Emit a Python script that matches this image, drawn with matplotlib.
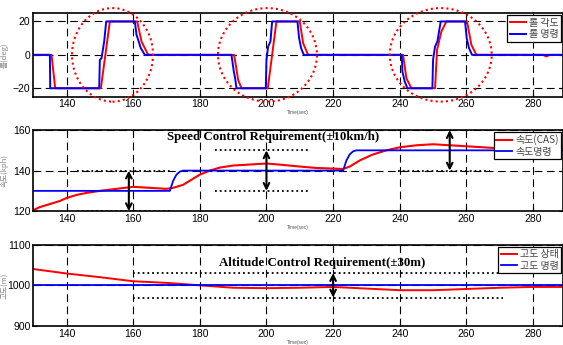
import matplotlib.pyplot as plt
from matplotlib.patches import Ellipse

plt.rcParams['font.family'] = ['Liberation Sans', 'Noto Sans CJK KR', 'DejaVu Sans']
KFONT = ['Noto Sans CJK KR', 'DejaVu Sans']

# ── DATA ──────────────────────────────────────────────────────────────────────
roll_cmd_t = [130, 135, 135.1, 149.8, 150, 150.5, 151.3, 151.9, 160.5, 161, 161.5,
              162.3, 163.5, 189.5, 190.2, 190.6, 191, 199.8, 200, 200.5, 201.2,
              201.7, 209.3, 209.8, 210.4, 211.2, 240.6, 240.8, 241.5, 242.3, 249.8,
              250, 250.6, 251.3, 252.3, 259.6, 260.1, 260.8, 261.7, 289]
roll_cmd = [0, 0, -20, -20, -3, -2, 8, 20, 20, 12, 9,
            4, 0, 0, -10, -14, -20, -20, -3, 5, 8,
            20, 20, 10, 4, 0, 0, -10, -16, -20, -20,
            -3, 5, 8, 20, 20, 10, 4, 0, 0]

roll_t = [130, 135.5, 136.6, 150.3, 153, 161.2, 162.5, 164.5, 190.3, 191.5, 192.5,
          200.4, 203, 210, 211, 212.5, 241, 242, 243.5, 250.6, 251.2, 252.5, 254,
          260.2, 261.5, 263, 283, 284, 285, 289]
roll_ang = [0, 0, -20, -20, 20, 20, 8, 0, 0, -15, -20,
            -20, 20, 20, 7, 0, 0, -14, -20, -20, 3, 14, 20,
            20, 6, 0, 0, -1, 0, 0]

spd_cmd_t = [130, 171, 172, 173, 174, 175, 223, 224, 225, 226, 227, 289]
spd_cmd = [130, 130, 135, 138, 139.5, 140, 140, 145, 148, 149.5, 150, 150]

spd_t = [130, 132, 135, 138, 140, 143, 146, 150, 155, 160, 165, 170, 172, 175,
         178, 180, 183, 186, 190, 195, 200, 205, 210, 215, 220, 223, 225, 228,
         232, 236, 240, 245, 250, 255, 260, 265, 270, 275, 280, 289]
spd_cas = [120.5, 122, 123.5, 125, 126.5, 128, 129, 130, 131, 132, 131.5, 131, 131.5, 133,
           136, 138, 140, 141.5, 142.5, 143, 143.5, 142.8, 142, 141.3, 141, 140.8, 142, 145,
           148, 150, 151.5, 152.5, 153, 152.5, 152, 151.5, 151, 150.5, 150.5, 150.5]

alt_t = [130, 140, 150, 160, 170, 180, 190, 200, 210, 220, 230, 240, 250, 260,
         270, 280, 289]
alt = [1040, 1029, 1020, 1010, 1006, 1000, 994, 993, 994, 996, 992, 988, 988, 991,
       994, 996, 996]
alt_cmd = 1000

# annotations: (center t, center y, width, height)
circles = [(153.8, 0, 24.3, 56), (200.3, 0, 29.7, 56), (252.3, 0, 30.6, 56)]
spd_bands = [(143, 171, 120, 140, 158.7), (184.5, 212.4, 130, 150, 200),
             (239.4, 267, 140, 160, 255)]
alt_band = (160, 271, 970, 1030, 220)


def style(ax, ylim, yticks, ylabel):
    ax.set_xlim(130, 289)
    ax.set_ylim(*ylim)
    ax.set_xticks(range(140, 290, 20))
    ax.set_yticks(yticks)
    ax.tick_params(direction='in', length=3, width=0.8, labelsize=7.5,
                   top=True, right=True, pad=2)
    for s in ax.spines.values():
        s.set_linewidth(1.2)
    ax.grid(True, color='black', linestyle=(0, (7, 4)), linewidth=0.8)
    ax.set_axisbelow(True)
    ax.set_xlabel('Time(sec)', fontsize=3.5, color='#555', labelpad=0.8)
    ax.set_ylabel(ylabel, family=KFONT, fontsize=5.5, color='#888')
    ax.yaxis.set_label_coords(-0.046, 0.5)


def legend(ax):
    lg = ax.legend(loc='upper right', prop={'family': KFONT, 'size': 7.2},
                   fancybox=False, edgecolor='black', framealpha=1,
                   handlelength=1.6, handletextpad=0.3, borderpad=0.25,
                   labelspacing=0.15, borderaxespad=0.2)
    lg.get_frame().set_linewidth(0.9)
    for t in lg.get_texts():
        t.set_color('#444')


fig = plt.figure(figsize=(5.63, 3.45), dpi=100)
ax1 = fig.add_axes([0.059, 0.720, 0.941, 0.242])
ax2 = fig.add_axes([0.059, 0.388, 0.941, 0.235])
ax3 = fig.add_axes([0.059, 0.055, 0.941, 0.236])

# ── roll ──
ax1.plot(roll_t, roll_ang, color='#ff0000', lw=1.4, label='롤 각도')
ax1.plot(roll_cmd_t, roll_cmd, color='#0000ff', lw=1.4, label='롤 명령')
style(ax1, (-25, 25), [-20, 0, 20], '롤(deg)')
for cx, cy, w, h in circles:
    ax1.add_patch(Ellipse((cx, cy), w, h, fill=False, edgecolor='#ff0000',
                          linestyle=(0, (1, 1.5)), lw=1.5, clip_on=False, zorder=5))
legend(ax1)

# ── speed ──
ax2.plot(spd_t, spd_cas, color='#ff0000', lw=1.5, label='속도(CAS)')
ax2.plot(spd_cmd_t, spd_cmd, color='#0000ff', lw=1.3, label='속도명령')
style(ax2, (120, 160), [120, 140, 160], '속도(kph)')
for x0, x1, lo, hi, xa in spd_bands:
    ax2.plot([x0, x1], [lo, lo], color='black', ls=':', lw=1.3)
    ax2.plot([x0, x1], [hi, hi], color='black', ls=':', lw=1.3)
    ax2.annotate('', xy=(xa, lo), xytext=(xa, hi),
                 arrowprops=dict(arrowstyle='<->', color='black', lw=1.5,
                                 shrinkA=0, shrinkB=0))
ax2.text(202, 156.6, 'Speed Control Requirement(±10km/h)', ha='center', va='center',
         family='Liberation Serif', fontweight='bold', fontsize=9.3)
legend(ax2)

# ── altitude ──
ax3.plot(alt_t, alt, color='#ff0000', lw=1.4, label='고도 상태')
ax3.axhline(alt_cmd, color='#0000ff', lw=1.3, label='고도 명령')
style(ax3, (900, 1100), [900, 1000, 1100], '고도(m)')
x0, x1, lo, hi, xa = alt_band
ax3.plot([x0, x1], [lo, lo], color='black', ls=':', lw=1.3)
ax3.plot([x0, x1], [hi, hi], color='black', ls=':', lw=1.3)
ax3.annotate('', xy=(xa, lo), xytext=(xa, hi),
             arrowprops=dict(arrowstyle='<->', color='black', lw=1.5,
                             shrinkA=0, shrinkB=0))
ax3.text(216.7, 1054, 'Altitude Control Requirement(±30m)', ha='center', va='center',
         family='Liberation Serif', fontweight='bold', fontsize=9.3)
legend(ax3)

fig.savefig('out.png', dpi=100)
